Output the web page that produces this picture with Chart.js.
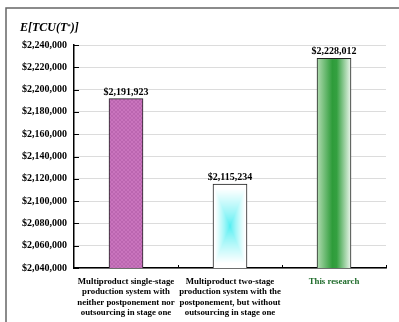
<!DOCTYPE html>
<html>
<head>
<meta charset="utf-8">
<script src="https://cdn.jsdelivr.net/npm/chart.js@4/dist/chart.umd.min.js"></script>
<style>
  html, body { margin: 0; padding: 0; background: #fff; }
  #chart { display: block; }
</style>
</head>
<body>
<canvas id="chart" width="399" height="322"></canvas>
<script>
// Expected total cost per unit time for the three systems
const categories = [
  ["Multiproduct single-stage", "production system with", "neither postponement nor", "outsourcing in stage one"],
  ["Multiproduct two-stage", "production system with the", "postponement, but without", "outsourcing in stage one"],
  ["This research"]
];
const costs = [2191923, 2115234, 2228012];
const yMin = 2040000;
const yMax = 2240000;
const yStep = 20000;

const serif = '"Liberation Serif", "Times New Roman", serif';
const BAR_W = 34;
const money = v => "$" + Math.round(v).toLocaleString("en-US");

// fine crosshatch for the first bar
function hatchPattern(ctx) {
  const c = document.createElement("canvas");
  c.width = 4; c.height = 4;
  const g = c.getContext("2d");
  g.fillStyle = "#c974bd";
  g.fillRect(0, 0, 4, 4);
  g.fillStyle = "#bb66b0";
  for (let i = 0; i < 4; i++) { g.fillRect(i, i, 1, 1); g.fillRect(3 - i, i, 1, 1); }
  return ctx.createPattern(c, "repeat");
}

// rectangular "from centre" gradient, cyan core fading to white
function centreFill(ctx, left, top, w, h) {
  const c = document.createElement("canvas");
  c.width = Math.max(1, Math.round(w)); c.height = Math.max(1, Math.round(h));
  const g = c.getContext("2d");
  const img = g.createImageData(c.width, c.height);
  const hw = c.width / 2, hh = c.height / 2;
  for (let py = 0; py < c.height; py++) {
    for (let px = 0; px < c.width; px++) {
      const t = Math.max(Math.abs(px + 0.5 - hw) / hw, Math.abs(py + 0.5 - hh) / hh);
      const k = Math.min(1, Math.pow(t, 0.8) * 1.1);
      const o = (py * c.width + px) * 4;
      img.data[o] = Math.round(80 + (255 - 80) * k);
      img.data[o + 1] = Math.round(238 + (255 - 238) * k);
      img.data[o + 2] = Math.round(242 + (255 - 242) * k);
      img.data[o + 3] = 255;
    }
  }
  g.putImageData(img, 0, 0);
  const p = ctx.createPattern(c, "no-repeat");
  p.setTransform(new DOMMatrix().translate(left, top));
  return p;
}

function barFill(context) {
  const chart = context.chart;
  const { x, y } = chart.scales;
  const i = context.dataIndex;
  if (!x || !y || i === undefined) return "#ccc";
  const ctx = chart.ctx;
  const left = x.getPixelForValue(i) - BAR_W / 2;
  const top = y.getPixelForValue(costs[i]);
  const base = y.getPixelForValue(yMin);
  if (i === 0) return hatchPattern(ctx);
  if (i === 1) return centreFill(ctx, left, top, BAR_W, base - top);
  const lg = ctx.createLinearGradient(left, 0, left + BAR_W, 0);
  lg.addColorStop(0, "#b2dcb2");
  lg.addColorStop(0.45, "#2e9c3a");
  lg.addColorStop(0.58, "#34a040");
  lg.addColorStop(1, "#eef7ee");
  return lg;
}

// frame, title, inward tick marks and value labels
const decorations = {
  id: "decorations",
  beforeDraw(chart) {
    const ctx = chart.ctx;
    ctx.save();
    ctx.fillStyle = "#fff";
    ctx.fillRect(0, 0, chart.width, chart.height);
    ctx.strokeStyle = "#666";
    ctx.lineWidth = 1.5;
    ctx.beginPath();
    ctx.moveTo(6, chart.height);
    ctx.lineTo(6, 8);
    ctx.lineTo(chart.width, 8);
    ctx.stroke();
    // E[TCU(T*)]
    ctx.fillStyle = "#000";
    ctx.textBaseline = "alphabetic";
    ctx.font = "italic bold 12px " + serif;
    let tx = 20;
    const ty = 31;
    ctx.fillText("E[TCU(T", tx, ty);
    tx += ctx.measureText("E[TCU(T").width;
    ctx.font = "bold 7px " + serif;
    ctx.fillText("*", tx, ty - 3);
    tx += ctx.measureText("*").width;
    ctx.font = "italic bold 12px " + serif;
    ctx.fillText(")]", tx, ty);
    ctx.restore();
  },
  afterDraw(chart) {
    const ctx = chart.ctx;
    const { x, y } = chart.scales;
    const area = chart.chartArea;
    ctx.save();
    ctx.strokeStyle = "#000";
    ctx.lineWidth = 1;
    ctx.beginPath();
    y.ticks.forEach(t => {
      const py = Math.round(y.getPixelForValue(t.value)) + 0.5;
      ctx.moveTo(area.left, py);
      ctx.lineTo(area.left + 5, py);
    });
    for (let i = 1; i <= categories.length; i++) {
      const px = Math.round(area.left + (area.right - area.left) * i / categories.length) + 0.5;
      ctx.moveTo(px, area.bottom);
      ctx.lineTo(px, area.bottom - 3);
    }
    ctx.stroke();
    ctx.fillStyle = "#000";
    ctx.font = "bold 10px " + serif;
    ctx.textAlign = "center";
    ctx.textBaseline = "alphabetic";
    chart.getDatasetMeta(0).data.forEach((bar, i) => {
      ctx.fillText(money(costs[i]), bar.x, bar.y - 4);
    });
    ctx.restore();
  }
};

new Chart(document.getElementById("chart"), {
  type: "bar",
  data: {
    labels: categories,
    datasets: [{
      data: costs,
      backgroundColor: barFill,
      borderColor: "#222",
      borderWidth: 1,
      borderSkipped: false,
      barThickness: BAR_W
    }]
  },
  options: {
    responsive: false,
    animation: false,
    layout: { padding: { top: 45, right: 13, left: 0, bottom: 0 } },
    plugins: {
      legend: { display: false },
      tooltip: { enabled: false }
    },
    scales: {
      x: {
        offset: true,
        grid: { display: false },
        border: { color: "#000", width: 1.5 },
        ticks: {
          padding: 0,
          maxRotation: 0,
          autoSkip: false,
          color: c => (c.index === 2 ? "#1e6b2a" : "#000"),
          font: { family: serif, size: 8.8, weight: "bold", lineHeight: 1.2 }
        },
        afterFit: s => { s.height = 54; }
      },
      y: {
        min: yMin,
        max: yMax,
        grid: { color: "#dcdcdc", lineWidth: 1, drawTicks: false },
        border: { color: "#000", width: 1.5 },
        ticks: {
          stepSize: yStep,
          padding: 7,
          color: "#000",
          font: { family: serif, size: 10, weight: "bold" },
          callback: v => money(v)
        },
        afterFit: s => { s.width = 74; }
      }
    }
  },
  plugins: [decorations]
});
</script>
</body>
</html>
